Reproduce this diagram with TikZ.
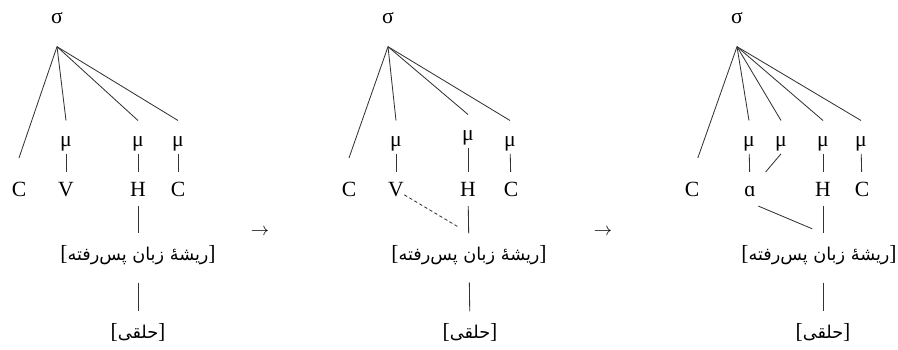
\documentclass[tikz,border=0pt]{standalone}
\usepackage{fontspec}
\setmainfont{Liberation Serif}
\newfontfamily\farsifont[Script=Arabic]{DejaVu Sans}
\TeXXeTstate=1
\usetikzlibrary{positioning}

\newcommand{\fafont}{\farsifont\fontsize{10.6}{13}\selectfont}

\tikzset{
  sig/.style={font=\fontsize{13}{15}\selectfont, inner sep=0pt, text height=6pt, text depth=0pt},
  mora/.style={font=\fontsize{13}{15}\selectfont, inner sep=0pt, text height=6pt, text depth=2pt, outer sep=2.5pt},
  seg/.style={font=\fontsize{13}{15}\selectfont, inner sep=0pt, text height=8.5pt, text depth=0pt, outer sep=6pt},
  feat/.style={font=\fontsize{13}{15}\selectfont, inner sep=0pt, text height=9pt, text depth=3pt, outer sep=7pt},
  link/.style={draw=black!80, line width=0.5pt},
  spread/.style={link, dashed, dash pattern=on 2pt off 1.5pt}
}

\begin{document}
\begin{tikzpicture}[x=0.6pt, y=-0.6pt]
\useasboundingbox (0,0) rectangle (898,349);

% first tree
\node[sig] (s1) at (57,18) {σ};
\coordinate[below=14pt of s1] (s1x);
\node[mora] (m11) at (66,143) {μ};
\node[mora] (m12) at (138,143) {μ};
\node[mora] (m13) at (178,143) {μ};
\node[seg] (c10) at (19,189) {C};
\node[seg] (v1) at (66,189) {V};
\node[seg] (h1) at (138,189) {H};
\node[seg] (c11) at (178,189) {C};
\node[feat] (r1) at (138,255) {[{\fafont\beginR ریشهٔ زبان پس‌رفته\endR}]};
\node[feat] (p1) at (138,333) {[{\fafont\beginR حلقی\endR}]};
\draw[link] (s1x) -- ([yshift=8.4pt]c10.north);
\draw[link] (s1x) -- ([yshift=7pt]m11.north);
\draw[link] (s1x) -- ([yshift=7pt]m12.north);
\draw[link] (s1x) -- ([yshift=7pt]m13.north);
\draw[link] (m11) -- (v1);
\draw[link] (m12) -- (h1);
\draw[link] (m13) -- (c11);
\draw[link] (h1) -- (r1);
\draw[link, shorten <=3.5pt] (r1) -- (p1);

\node[font=\fontsize{11}{13}\selectfont] (arr1) at (260,232) {$\rightarrow$};

% second tree
\node[sig] (s2) at (388,18) {σ};
\coordinate[below=14pt of s2] (s2x);
\node[mora] (m21) at (396,143) {μ};
\node[mora] (m22) at (468,137) {μ};
\node[mora] (m23) at (510,143) {μ};
\node[seg] (c20) at (349,189) {C};
\node[seg] (v2) at (396,189) {V};
\node[seg] (h2) at (468,189) {H};
\node[seg] (c21) at (511,189) {C};
\node[feat] (r2) at (469,255) {[{\fafont\beginR ریشهٔ زبان پس‌رفته\endR}]};
\node[feat] (p2) at (470,333) {[{\fafont\beginR حلقی\endR}]};
\draw[link] (s2x) -- ([yshift=8.4pt]c20.north);
\draw[link] (s2x) -- ([yshift=7pt]m21.north);
\draw[link] (s2x) -- ([yshift=7pt]m22.north);
\draw[link] (s2x) -- ([yshift=7pt]m23.north);
\draw[link] (m21) -- (v2);
\draw[link] (m22) -- (h2);
\draw[link] (m23) -- (c21);
\draw[link] (h2) -- (r2);
\draw[spread, shorten >=7pt] ([xshift=5pt,yshift=-3.5pt]v2.center) -- (r2.north);
\draw[link, shorten <=3.5pt] (r2) -- (p2);

\node[font=\fontsize{11}{13}\selectfont] (arr2) at (603,232) {$\rightarrow$};

% third tree
\node[sig] (s3) at (737,18) {σ};
\coordinate[below=14pt of s3] (s3x);
\node[mora] (m31) at (749,143) {μ};
\node[mora] (m32) at (781,143) {μ};
\node[mora] (m33) at (823,143) {μ};
\node[mora] (m34) at (861,143) {μ};
\node[seg] (c30) at (692,189) {C};
\node[seg] (a3) at (750,189) {ɑ};
\node[seg] (h3) at (823,189) {H};
\node[seg] (c31) at (862,189) {C};
\node[feat] (r3) at (819,255) {[{\fafont\beginR ریشهٔ زبان پس‌رفته\endR}]};
\node[feat] (p3) at (823,333) {[{\fafont\beginR حلقی\endR}]};
\draw[link] (s3x) -- ([xshift=3.5pt,yshift=8.4pt]c30.north);
\draw[link] (s3x) -- ([yshift=7pt]m31.north);
\draw[link] (s3x) -- ([yshift=7pt]m32.north);
\draw[link] (s3x) -- ([yshift=7pt]m33.north);
\draw[link] (s3x) -- ([yshift=7pt]m34.north);
\draw[link] (m31) -- (a3);
\draw[link] (m32.south) -- (a3.north east);
\draw[link] (m33) -- (h3);
\draw[link] (m34) -- (c31);
\draw[link] (h3) -- (h3 |- r3.north);
\draw[link, shorten >=7pt] ([xshift=5pt]a3.south) -- (h3 |- r3.north);
\draw[link, shorten <=3.5pt] (h3 |- r3.south) -- (p3);
\end{tikzpicture}
\end{document}
